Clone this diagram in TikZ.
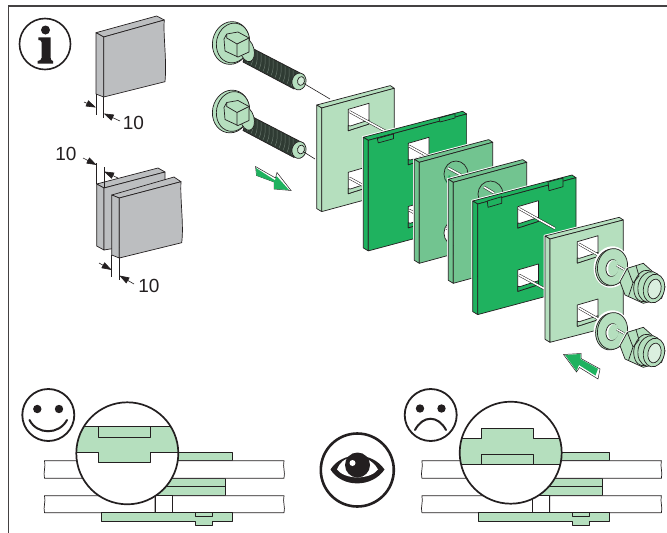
\documentclass[tikz,border=0pt]{standalone}
\usepackage{fontspec}
\setmainfont{Liberation Sans}
\usetikzlibrary{arrows.meta}
\definecolor{lg}{HTML}{B5DFBE}
\definecolor{dg}{HTML}{1FB25F}
\definecolor{mg}{HTML}{72C490}
\definecolor{gy}{HTML}{BCBEC0}
\definecolor{ink}{HTML}{231F20}
\definecolor{thr}{HTML}{2F3B33}
\definecolor{rib}{HTML}{6B7A70}
\tikzset{
  ln/.style={draw=ink,line width=0.7pt,line join=round},
  dimarrow/.style={draw=ink,line width=0.6pt,-{Triangle[length=10pt,width=6.5pt]}},
  dimline/.style={draw=ink,line width=0.5pt},
  dimtext/.style={font=\fontsize{19}{19}\selectfont,text=ink,inner sep=0pt},
  sym/.style={draw=ink,line width=1.8pt},
  bigc/.style={draw=ink,line width=1.7pt}
}
% plate: fill, Lx, Ly, width, rise, height
\newcommand{\plateshape}[6]{
  \path[draw=white,line width=2.6pt,line join=round] (#2,#3) ++(5,3) --++(#4,-#5) --++(0,#6) --++(-#4,#5) --++(-5,-3) --++(0,-#6) -- cycle;
  \path[draw=white,line width=2.6pt,line join=round] (#2,#3) --++(5,3) --++(#4,-#5) --++(-4,-2.7) -- cycle;
  \path[ln,fill=#1] (#2,#3) --++(5,3) --++(#4,-#5) --++(-4,-2.7) -- cycle;
  \path[ln,fill=#1] (#2,#3) --++(5,3) --++(0,#6) --++(-5,-3) -- cycle;
  \path[ln,fill=#1] (#2,#3) ++(5,3) --++(#4,-#5) --++(0,#6) --++(-#4,#5) -- cycle;
}
% window: fill, x, y
\newcommand{\win}[3]{
  \path[ln,fill=white] (#2,#3) --++(20.7,-6) --++(0,20.7) --++(-20.7,6.7) -- cycle;
  \path[ln,fill=#1] (#2,#3) ++(0,21.4) --++(20.7,-6.7) --++(0,-4) --++(-18.7,6) --++(-2,-0.5) -- cycle;
}
\newcommand{\axisline}[4]{
  \draw[ink,line width=2.6pt] (#1,#2) -- (#3,#4);
  \draw[white,line width=1.6pt] (#1,#2) -- (#3,#4);
}
\newcommand{\boltshape}[1]{
\begin{scope}[shift={(0,#1)}]
  \path[ln,fill=lg,rotate around={-12:(231,43)}] (231,43) ellipse (18.5 and 21.5);
  \path[ln,fill=lg,rotate around={-12:(233,43)}] (233,43) ellipse (16.5 and 20);
  \path[ln,fill=thr] (248,46) -- (304,75) -- (294,89) -- (243,62) -- cycle;
  \foreach \t in {0,4,...,48}{
    \draw[rib,line width=0.45pt] (249+\t,47+\t*0.52) .. controls (249+\t,52+\t*0.52) and (250+\t,58+\t*0.52) .. (247+\t,63+\t*0.52);
  }
  \path[ln,fill=lg,rotate around={15:(247,50)}] (247,50) ellipse (7 and 12);
  \path[ln,fill=lg] (224,39) -- (226.7,34) -- (238,32) -- (249,38) -- (249,52) -- (238,57) -- (225,51) -- cycle;
  \path[ln] (226.7,34) -- (226.7,38) -- (237,44) -- (237,57) (237,44) -- (249,38);
  \path[ln,fill=lg,rotate around={-12:(299,81.5)}] (299,81.5) ellipse (7 and 8.5);
  \path[ln,fill=lg!60!white,rotate around={-12:(301,81)}] (301,81) ellipse (3.5 and 4.5);
\end{scope}}
\newcommand{\nutshape}[1]{
\begin{scope}[shift={(0,#1)}]
  \path[draw=white,line width=2.6pt,fill=white,rotate around={-10:(611.5,267)}] (611.5,267) ellipse (16.5 and 19.5);
  \path[ln,fill=lg,rotate around={-10:(610.7,267.5)}] (610.7,267.5) ellipse (15 and 18.5);
  \path[ln,fill=lg,rotate around={-10:(612.5,267)}] (612.5,267) ellipse (15 and 18.5);
  \path[ln,fill=white,rotate around={-10:(612,268)}] (612,268) ellipse (6 and 8.5);
  \path[fill=lg,rotate around={-10:(613.5,268)}] (613.5,268) ellipse (5.2 and 8);
  \draw[ink,line width=2.2pt] (617,265.5) -- (624,269.5);
  \draw[white,line width=1.3pt] (617,265.5) -- (624,269.5);
  \path[draw=white,line width=2.4pt] (620,281.7) -- (627.3,268.3) -- (643.3,263.3);
  \path[ln,fill=lg] (620,281.7) -- (627.3,268.3) -- (643.3,263.3) -- (658.3,276.7) -- (665,286.7) -- (661.7,298.3) -- (643.3,303.3) -- (625,295) -- cycle;
  \path[ln] (627.3,268.3) -- (633,283) -- (628.5,296.5) (633,283) -- (639,276) -- (636,265.5);
  \path[ln,rotate around={-12:(645,286)}] (645,286) ellipse (11 and 16);
  \path[ln,fill=lg,rotate around={-12:(650,287)}] (650,287) ellipse (12 and 15.5);
  \path[ln,fill=lg,rotate around={-12:(654,288.5)}] (654,288.5) ellipse (10.5 and 14.5);
  \path[ln,fill=lg!50!white,rotate around={-12:(654.5,289)}] (654.5,289) ellipse (6.5 and 10);
\end{scope}}
% section plates shared by the two bottom drawings
\newcommand{\stackshape}[1]{%
\begin{scope}[shift={(#1,0)}]
  \path[ln,fill=lg] (150,452.7) rectangle (232.3,460.7);
  \path[ln,fill=lg] (150,478.3) rectangle (225,486.7);
  \path[ln,fill=lg] (150,486.7) rectangle (225,495.7);
  \path[ln,fill=white] (44.5,460.7) -- (284,460.7) .. controls (282.5,467) and (285.5,472) .. (284,478.3) -- (44.5,478.3) .. controls (43,472) and (46,467) .. (44.5,460.7) -- cycle;
  \path[ln,fill=white] (44.5,495.7) -- (155,495.7) -- (155,512.7) -- (44.5,512.7) .. controls (43,507) and (46,502) .. (44.5,495.7) -- cycle;
  \path[ln,fill=white] (172.3,495.7) -- (284,495.7) .. controls (282.5,502) and (285.5,507) .. (284,512.7) -- (172.3,512.7) -- cycle;
  \path[ln,fill=white] (155,495.7) rectangle (172.3,512.7);
  \path[ln,fill=lg] (101.3,512.7) -- (232.3,512.7) -- (232.3,521.7) -- (212.3,521.7) -- (212.3,525) -- (195,525) -- (195,521.7) -- (101.3,521.7) -- cycle;
  \path[ln] (195,512.7) -- (195,516) -- (212.3,516) -- (212.3,512.7);
\end{scope}}
\begin{document}
\begin{tikzpicture}[x=1pt,y=-1pt]
\useasboundingbox (0,0) rectangle (667,533);
\fill[white] (0,0) rectangle (667,533);
% frame
\draw[ink!85,line width=1.6pt] (8.5,533) -- (8.5,6) -- (667,6);
% info icon
\draw[ink,line width=1.6pt] (45,44) circle (25.5);
\fill[ink] (45.5,30) circle (4.5);
\fill[ink] (38.3,37.3) -- (50.7,37.3) -- (50.7,58) .. controls (50.7,60) and (51.5,60.5) .. (53,61) -- (53,63.5) -- (37.5,63.5) -- (37.5,61) .. controls (40,60.5) and (41.5,60) .. (41.5,58) -- (41.5,42) .. controls (41.5,40.5) and (40,40) .. (38.3,40) -- cycle;
% block 1
\path[ln,fill=gy] (96,32.7) -- (103.7,37) -- (164.3,20) -- (156.7,16) -- cycle;
\path[ln,fill=gy] (96,32.7) -- (103.7,37) -- (103.7,97) -- (96,94) -- cycle;
\path[ln,fill=gy] (103.7,37) -- (164.3,20) .. controls (163,35) and (167,60) .. (165,81.7) -- (103.7,97) -- cycle;
\draw[dimline] (96,94) -- (96,115) (103.7,97) -- (103.7,118);
\coordinate (a1) at (84,102); \coordinate (a1e) at (96,107.5);
\coordinate (a2) at (120,121); \coordinate (a2e) at (103.7,113.5);
\draw[dimarrow] (a1) -- (a1e); \draw[dimarrow] (a2) -- (a2e);
\node[dimtext] (t1) at (133.5,123) {10};
% block 2
\path[ln,fill=gy] (96.7,184) -- (104,188) -- (165,172) -- (158,168) -- cycle;
\path[ln,fill=gy] (96.7,184) -- (104,188) -- (104,250) -- (96.7,246) -- cycle;
\path[ln,fill=gy] (104,188) -- (165,172) -- (165,240) -- (104,250) -- cycle;
\path[ln,fill=gy] (111.7,195) -- (119.3,198) -- (181,181.7) -- (174,177) -- cycle;
\path[ln,fill=gy] (111.7,195) -- (119.3,198) -- (119.3,258) -- (111.7,255) -- cycle;
\path[ln,fill=gy] (119.3,198) -- (181,181.7) .. controls (180,200) and (184,225) .. (181.7,242.7) -- (119.3,258) -- cycle;
\draw[dimline] (96.7,184) -- (96.7,163) (104,188) -- (104,167);
\coordinate (b1) at (83,158); \coordinate (b1e) at (96.7,165);
\coordinate (b2) at (118,178); \coordinate (b2e) at (104,171.5);
\draw[dimarrow] (b1) -- (b1e); \draw[dimarrow] (b2) -- (b2e);
\node[dimtext] (t2) at (66,154) {10};
\draw[dimline] (111.7,255) -- (111.7,277) (119.3,258) -- (119.3,280);
\coordinate (c1) at (99,263); \coordinate (c1e) at (111.7,270);
\coordinate (c2) at (134,284); \coordinate (c2e) at (119.3,275.5);
\draw[dimarrow] (c1) -- (c1e); \draw[dimarrow] (c2) -- (c2e);
\node[dimtext] (t3) at (149,286) {10};
% bolts
\boltshape{0}\boltshape{68.5}
\draw[ink,line width=0.6pt] (303,83) -- (330,99);
\draw[ink,line width=0.6pt] (303,151.5) -- (315,159);
% arrow left
\path[draw=ink,line width=0.5pt,fill=white] (255.5,166.5) -- (256.5,175.5) -- (274,182) -- (274,189) -- (291,190.5) -- (277,172.5) -- (275.5,178) -- cycle;
\path[fill=dg] (256,168) -- (256.5,175.5) -- (274,182) -- (274,189) -- (289,190) -- (276.5,176) -- (275,180.3) -- cycle;
% plate 1
\plateshape{lg}{316.7}{105}{72.6}{19.7}{103.6}
\win{lg}{348.3}{109.3}
\win{lg}{348.3}{172.3}
\axisline{349.3}{111.5}{387}{132}
\axisline{349.3}{178}{364}{186}
% plate 2
\plateshape{dg}{363.3}{137.3}{98.3}{26.3}{110.6}
\path[ln,fill=dg] (377.3,138.5) -- (393.5,134) -- (393.5,138.7) -- (378.3,142.9) -- cycle;
\path[ln,fill=dg] (439,118) -- (455,113.6) -- (455,118) -- (440,122) -- cycle;
\win{dg}{408.3}{143.3}
\win{dg}{408.3}{206.5}
\axisline{409}{146}{429}{157}
\axisline{409}{210}{429}{221}
% plate 3
\plateshape{mg}{414.3}{159.3}{73.4}{20}{101}
\path[ln,fill=mg] (456,174) ellipse (12 and 13);
\fill[dg] (444,174) arc[start angle=180,end angle=100,x radius=12,y radius=13] .. controls (449,168) and (447,175) .. (449,186) .. controls (446,183) and (444,178) .. (444,174) -- cycle;
\path[ln,fill=white] (456,233) ellipse (12 and 13);
\axisline{448}{168}{461}{175}
\axisline{446}{228}{470}{240}
% plate 4
\plateshape{mg}{448.3}{179.3}{73.4}{20}{101}
\path[ln,fill=mg] (490.5,194) ellipse (12.5 and 13);
\axisline{484}{187}{494}{193}
\path[ln,fill=white] (490.5,254) ellipse (12.5 and 13);
% plate 5
\plateshape{dg}{472.7}{201}{98.3}{26.3}{110.6}
\path[ln,fill=dg] (487.3,201) -- (501.7,196.7) -- (501.7,203.3) -- (488,207.3) -- cycle;
\path[ln,fill=dg] (548,182) -- (563,178) -- (563,186.7) -- (549,190.7) -- cycle;
\win{dg}{517.7}{206.7}
\win{dg}{517.7}{270}
\axisline{519}{208.5}{555}{228.5}
\axisline{519}{275}{556}{295}
% plate 6
\plateshape{lg}{545}{236}{73.3}{19}{103.3}
\win{lg}{577.3}{241.7}
\win{lg}{577.3}{305}
\axisline{579}{244}{600}{256}
\axisline{579}{308}{600}{320}
% washers and nuts
\nutshape{0}\nutshape{64}
% arrow right
\path[draw=ink,line width=0.5pt,fill=white] (563.5,354.5) -- (581,353.5) -- (581,358.5) -- (600,369) -- (598,379) -- (579.5,367.5) -- (576.5,372) -- cycle;
\path[fill=dg] (565,355) -- (580.5,354) -- (580.5,359) -- (598,368.8) -- (595.5,375.5) -- (579,365) -- (576.5,371) -- cycle;
% smiley
\draw[sym] (48.3,415) circle (26);
\fill[ink] (37.3,409) circle (4.2) (59,409) circle (4.2);
\draw[ink,line width=2pt,line cap=round] (29.5,420) .. controls (37,435) and (59,435) .. (67,420);
% frown
\draw[sym] (430.7,415) circle (26);
\fill[ink] (420,408.5) circle (4.2) (441.5,408.5) circle (4.2);
\draw[ink,line width=2pt,line cap=round] (415,430) .. controls (423,415) and (438,415) .. (446,430);
% eye
\draw[ink,line width=2.6pt] (357.3,470) circle (36.5);
\fill[ink] (330.5,469.5) .. controls (342,451) and (372,451) .. (384.5,469.5) .. controls (372,488) and (342,488) .. (330.5,469.5) -- cycle;
\fill[white] (337,469.5) .. controls (340,462) and (345,459) .. (348,458.5) .. controls (346,470) and (368,470) .. (366,458.5) .. controls (371,461) and (375,464) .. (378,469.5) .. controls (370,480) and (345,480) .. (337,469.5) -- cycle;
\fill[ink] (357.5,465) circle (12.5);
\fill[white] (352.5,463) circle (3);
% stacks
\stackshape{0}
\stackshape{377.4}
% magnifier left
\begin{scope}
  \clip (127.3,453.3) circle (51);
  \fill[white] (70,400) rectangle (185,510);
  \fill[lg] (70,426.7) rectangle (185,452.5);
  \fill[lg] (98.3,452) rectangle (150,462.7);
  \draw[ln] (70,426.7) -- (185,426.7);
  \draw[ln] (70,452.5) -- (98.3,452.5) -- (98.3,462.7) -- (150,462.7) -- (150,452.5) -- (185,452.5);
  \draw[ln] (98.3,426.7) -- (98.3,437.3) -- (150,437.3) -- (150,426.7);
\end{scope}
\draw[bigc] (127.3,453.3) circle (51);
% magnifier right
\begin{scope}
  \clip (510.7,452.7) circle (51);
  \fill[white] (450,400) rectangle (570,510);
  \fill[lg] (450,438.3) rectangle (570,464.3);
  \fill[lg] (481.7,428.3) rectangle (533.3,439);
  \draw[ln] (450,438.3) -- (481.7,438.3) -- (481.7,428.3) -- (533.3,428.3) -- (533.3,438.3) -- (570,438.3);
  \draw[ln] (450,464.3) -- (570,464.3);
  \draw[ln] (481.7,464.3) -- (481.7,454) -- (533.3,454) -- (533.3,464.3);
\end{scope}
\draw[bigc] (510.7,452.7) circle (51);
\end{tikzpicture}
\end{document}
